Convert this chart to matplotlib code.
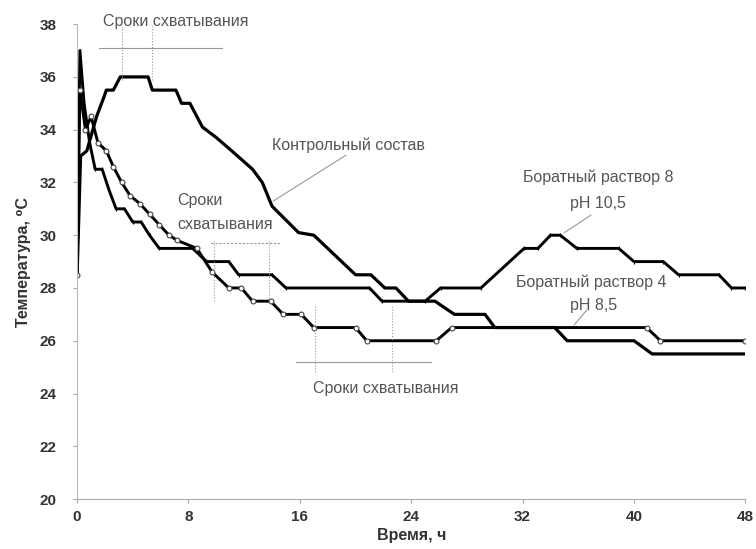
import matplotlib
matplotlib.use('Agg')
import matplotlib.pyplot as plt

plt.rcParams['font.family'] = ['Liberation Sans', 'DejaVu Sans']

# breakpoints (time, h) and temperature (C)
t_control = [0, 0.25, 0.7, 1.4, 1.9, 2.1, 2.6, 3.1, 5.1, 5.4, 7.1, 7.5, 8.1, 9.0, 10.0,
             11.1, 12.6, 13.3, 14.0, 15.9, 17.0, 20.0, 21.1, 22.1, 22.9, 23.8, 25.7,
             27.1, 29.3, 30.0, 34.3, 35.2, 40.0, 41.3, 48]
v_control = [28.5, 33.0, 33.2, 34.5, 35.2, 35.5, 35.5, 36.0, 36.0, 35.5, 35.5, 35.0, 35.0,
             34.1, 33.7, 33.2, 32.5, 32.0, 31.1, 30.1, 30.0, 28.5, 28.5, 28.0, 28.0, 27.5,
             27.5, 27.0, 27.0, 26.5, 26.5, 26.0, 26.0, 25.5, 25.5]

t_borate8 = [0, 0.2, 0.5, 0.9, 1.3, 1.8, 2.3, 2.8, 3.4, 4.0, 4.6, 5.2, 5.9, 8.3, 9.3, 10.9,
             11.6, 14.0, 15.0, 21.0, 21.9, 25.0, 26.1, 29.0, 32.1, 33.1, 34.0, 34.7, 35.9,
             38.9, 40.0, 42.1, 43.2, 46.1, 47.0, 48]
v_borate8 = [28.5, 37.0, 35.0, 33.5, 32.5, 32.5, 31.7, 31.0, 31.0, 30.5, 30.5, 30.0, 29.5,
             29.5, 29.0, 29.0, 28.5, 28.5, 28.0, 28.0, 27.5, 27.5, 28.0, 28.0, 29.5, 29.5,
             30.0, 30.0, 29.5, 29.5, 29.0, 29.0, 28.5, 28.5, 28.0, 28.0]

t_borate4 = [0, 0.2, 0.6, 1.0, 1.5, 2.1, 2.6, 3.2, 3.8, 4.5, 5.2, 5.9, 6.6, 7.2, 8.6, 9.7,
             10.9, 11.8, 12.6, 13.9, 14.8, 16.1, 17.0, 20.0, 20.8, 25.8, 26.9, 40.9, 41.9, 48]
v_borate4 = [28.5, 35.5, 34.0, 34.5, 33.5, 33.2, 32.6, 32.0, 31.5, 31.2, 30.8, 30.4, 30.0,
             29.8, 29.5, 28.6, 28.0, 28.0, 27.5, 27.5, 27.0, 27.0, 26.5, 26.5, 26.0, 26.0,
             26.5, 26.5, 26.0, 26.0]

x_ticks = [0, 8, 16, 24, 32, 40, 48]
y_ticks = [20, 22, 24, 26, 28, 30, 32, 34, 36, 38]

fig = plt.figure(figsize=(7.56, 5.49), dpi=100)
ax = fig.add_axes([0.102, 0.091, 0.884, 0.865])

ax.plot(t_control, v_control, color='black', lw=2.3)
ax.plot(t_borate8, v_borate8, color='black', lw=2.1, marker='|', ms=3, mew=0.8)
ax.plot(t_borate4, v_borate4, color='black', lw=2.1, marker='o', ms=3.5,
        mfc='white', mec='#444444', mew=0.8)

gray = '#555555'
lc = '#999999'
fs = 11.5

# setting time marks
ax.text(7.1, 38.1, 'Сроки схватывания', color=gray, fontsize=fs, ha='center', va='center')
ax.plot([1.6, 10.4], [37.08, 37.08], color=lc, lw=0.8)
ax.plot([3.2, 3.2], [35.9, 38.0], color=lc, lw=0.8, ls=':')
ax.plot([5.4, 5.4], [35.9, 38.0], color=lc, lw=0.8, ls=':')

ax.text(7.2, 31.3, 'Сроки', color=gray, fontsize=fs, ha='left', va='center')
ax.text(7.2, 30.4, 'схватывания', color=gray, fontsize=fs, ha='left', va='center')
ax.plot([9.6, 14.6], [29.7, 29.7], color=lc, lw=0.8, ls=(0, (2, 1.5)))
ax.plot([9.8, 9.8], [27.5, 29.8], color=lc, lw=0.8, ls=':')
ax.plot([13.8, 13.8], [27.5, 29.8], color=lc, lw=0.8, ls=':')

ax.text(22.2, 24.2, 'Сроки схватывания', color=gray, fontsize=fs, ha='center', va='center')
ax.plot([15.7, 25.4], [25.2, 25.2], color=lc, lw=0.8)
ax.plot([17.1, 17.1], [24.8, 27.3], color=lc, lw=0.8, ls=':')
ax.plot([22.6, 22.6], [24.8, 27.3], color=lc, lw=0.8, ls=':')

# series labels
ax.text(19.5, 33.4, 'Контрольный состав', color=gray, fontsize=fs, ha='center', va='center')
ax.plot([19.3, 14.1], [33.03, 31.3], color=lc, lw=0.8)

ax.text(37.4, 32.2, 'Боратный раствор 8', color=gray, fontsize=fs, ha='center', va='center')
ax.text(37.4, 31.2, 'pH 10,5', color=gray, fontsize=fs, ha='center', va='center')
ax.plot([36.9, 35.0], [30.76, 30.1], color=lc, lw=0.8)

ax.text(36.9, 28.2, 'Боратный раствор 4', color=gray, fontsize=fs, ha='center', va='center')
ax.text(37.1, 27.35, 'pH 8,5', color=gray, fontsize=fs, ha='center', va='center')
ax.plot([36.6, 35.7], [27.16, 26.6], color=lc, lw=0.8)

ax.set_xlim(0, 48)
ax.set_ylim(20, 38)
ax.set_xticks(x_ticks)
ax.set_yticks(y_ticks)
for lab in ax.get_xticklabels() + ax.get_yticklabels():
    lab.set_fontweight('bold')
    lab.set_color('#333333')
    lab.set_fontsize(11)
ax.tick_params(axis='both', length=3, color='#aaaaaa', width=0.8)
ax.tick_params(axis='y', pad=12)
ax.tick_params(axis='x', pad=5)

ax.spines['top'].set_visible(False)
ax.spines['right'].set_visible(False)
ax.spines['left'].set_color('#bbbbbb')
ax.spines['bottom'].set_color('#aaaaaa')
ax.spines['left'].set_linewidth(0.8)
ax.spines['bottom'].set_linewidth(0.8)

ax.set_xlabel('Время, ч', fontsize=11.5, fontweight='bold', color='#333333', labelpad=3)
ax.set_ylabel('Температура, ⁰С', fontsize=11.5, fontweight='bold', color='#333333', labelpad=6)

fig.savefig('out.png', dpi=100)
